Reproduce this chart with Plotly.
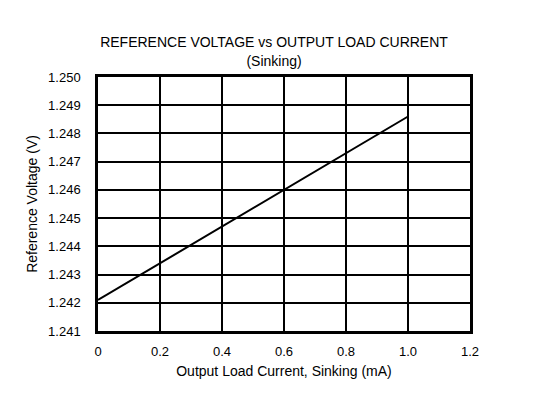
import plotly.graph_objects as go

current_ma = [0.0, 0.2, 0.4, 0.6, 0.8, 1.0]
ref_voltage = [1.2421, 1.2434, 1.2447, 1.2460, 1.2473, 1.2486]

x_ticks = [0, 0.2, 0.4, 0.6, 0.8, 1.0, 1.2]
x_labels = ["0", "0.2", "0.4", "0.6", "0.8", "1.0", "1.2"]
y_ticks = [1.241, 1.242, 1.243, 1.244, 1.245, 1.246, 1.247, 1.248, 1.249, 1.250]
y_labels = ["1.241", "1.242", "1.243", "1.244", "1.245", "1.246", "1.247", "1.248", "1.249", "1.250"]

fig = go.Figure()
fig.add_trace(go.Scatter(x=current_ma, y=ref_voltage, mode="lines",
                         line=dict(color="black", width=2), showlegend=False))

fig.update_layout(
    width=532, height=391,
    margin=dict(l=90, r=70, t=69, b=68),
    paper_bgcolor="white", plot_bgcolor="white",
    font=dict(family="Liberation Sans, Arial, sans-serif", size=13, color="black"),
    title=dict(text="REFERENCE VOLTAGE vs OUTPUT LOAD CURRENT<br>(Sinking)",
               x=0.5, xanchor="center", y=0.899, yanchor="middle",
               font=dict(size=14, color="black")),
)
fig.update_xaxes(range=[0, 1.2], tickvals=x_ticks, ticktext=x_labels,
                 showgrid=True, gridcolor="black", gridwidth=1.5,
                 showline=True, linecolor="black", linewidth=2.5, mirror=True,
                 zeroline=False, ticks="outside", ticklen=7, tickcolor="rgba(0,0,0,0)",
                 tickfont=dict(size=13),
                 title=dict(text="Output Load Current, Sinking (mA)", font=dict(size=14), standoff=8))
fig.update_yaxes(range=[1.241, 1.250], tickvals=y_ticks, ticktext=y_labels,
                 showgrid=True, gridcolor="black", gridwidth=1.5,
                 showline=True, linecolor="black", linewidth=2.5, mirror=True,
                 zeroline=False, ticks="outside", ticklen=12, tickcolor="rgba(0,0,0,0)",
                 tickfont=dict(size=13),
                 title=dict(text="Reference Voltage (V)", font=dict(size=14), standoff=8))

fig.write_html("out.html")
